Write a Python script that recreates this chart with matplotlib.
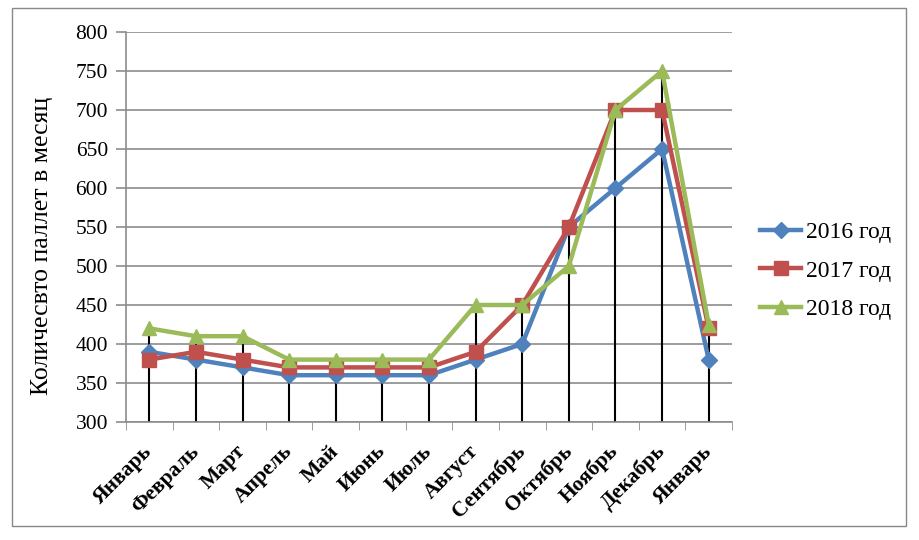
import matplotlib
matplotlib.use("Agg")
import matplotlib.pyplot as plt
from matplotlib.patches import Rectangle

months = ["Январь", "Февраль", "Март", "Апрель", "Май", "Июнь", "Июль",
          "Август", "Сентябрь", "Октябрь", "Ноябрь", "Декабрь", "Январь"]
s2016 = [390, 380, 370, 360, 360, 360, 360, 380, 400, 550, 600, 650, 380]
s2017 = [380, 390, 380, 370, 370, 370, 370, 390, 450, 550, 700, 700, 420]
s2018 = [420, 410, 410, 380, 380, 380, 380, 450, 450, 500, 700, 750, 425]
series_names = ["2016 год", "2017 год", "2018 год"]
yticks = [300, 350, 400, 450, 500, 550, 600, 650, 700, 750, 800]

plt.rcParams['font.family'] = ['Liberation Serif', 'DejaVu Serif']

fig = plt.figure(figsize=(9.2, 5.4), dpi=100)
fig.patches.append(Rectangle((12/920, 1-526/540), (906-12)/920, (526-8)/540,
                             transform=fig.transFigure, fill=False,
                             edgecolor='#888888', linewidth=1))
ax = fig.add_axes([126/920, 1-422/540, (732-126)/920, (422-32)/540])

x = list(range(len(months)))
tops = [max(a, b, c) for a, b, c in zip(s2016, s2017, s2018)]
ax.vlines(x, 300, tops, colors='black', linewidth=1.5, zorder=2)

ax.plot(x, s2016, color='#4F81BD', lw=3.2, marker='D', ms=8, label=series_names[0], zorder=3)
ax.plot(x, s2017, color='#C0504D', lw=3.2, marker='s', ms=10, label=series_names[1], zorder=4)
ax.plot(x, s2018, color='#9BBB59', lw=3.2, marker='^', ms=10, label=series_names[2], zorder=5)

ax.set_xlim(-0.5, len(months) - 0.5)
ax.set_ylim(300, 800)
ax.set_yticks(yticks)
ax.set_yticklabels([str(v) for v in yticks], fontsize=15.5)
ax.yaxis.grid(True, color='#8c8c8c', linewidth=1.2)
ax.set_axisbelow(True)
ax.tick_params(axis='y', length=7, color='#8c8c8c', width=1.2, pad=6)

ax.set_xticks(x)
ax.set_xticklabels(months, rotation=45, ha='right', va='center',
                   rotation_mode='anchor', fontsize=15.5, fontweight='bold')
ax.tick_params(axis='x', length=0, pad=19)
ax.set_xticks([i - 0.5 for i in range(len(months) + 1)], minor=True)
ax.tick_params(axis='x', which='minor', length=6, color='#8c8c8c', direction='out')

for side in ['top', 'right']:
    ax.spines[side].set_visible(False)
ax.spines['left'].set_color('#8c8c8c')
ax.spines['bottom'].set_color('#8c8c8c')
ax.spines['left'].set_linewidth(1.2)
ax.spines['bottom'].set_linewidth(1.2)

ax.set_ylabel("Количесвто паллет в месяц", fontsize=18.5)
ax.yaxis.set_label_coords((53 - 126) / (732 - 126), (422 - 246) / (422 - 32))

fig.legend(loc='center left', bbox_to_anchor=(760/920, 1-271/540), frameon=False,
           borderpad=0, borderaxespad=0,
           fontsize=17, handlelength=1.75, handletextpad=0.2, labelspacing=0.72)

fig.savefig("out.png", dpi=100)
